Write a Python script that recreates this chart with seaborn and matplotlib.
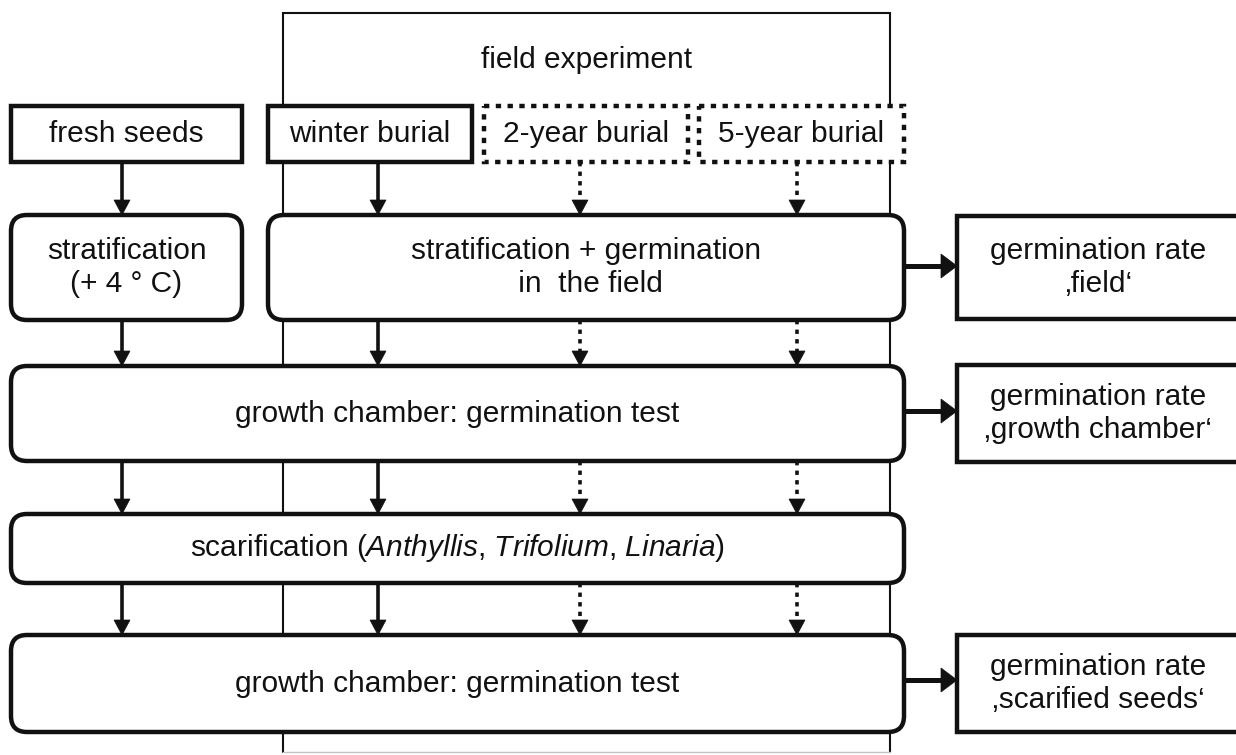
import matplotlib
matplotlib.use("Agg")
import matplotlib.pyplot as plt
import seaborn as sns
from matplotlib.patches import FancyBboxPatch, Polygon

# ---------------- content ----------------
frame_title = "field experiment"
top_labels = ["fresh seeds", "winter burial", "2-year burial", "5-year burial"]
top_dotted = [False, False, True, True]
row2_labels = ["stratification\n(+ 4 \u00b0 C)", "stratification + germination\n in  the field"]
chamber_label = "growth chamber: germination test"
scar_label = r"scarification ($\mathit{Anthyllis}$, $\mathit{Trifolium}$, $\mathit{Linaria}$)"
rate_labels = ["germination rate\n\u201afield\u2018",
               "germination rate\n\u201agrowth chamber\u2018",
               "germination rate\n\u201ascarified seeds\u2018"]

# ---------------- layout (pixels) ----------------
W, H = 1236, 755
frame_x = (283, 890)
frame_y = (13, 752)
top_x = [(11, 242), (268, 472), (484, 688), (699, 904)]
top_y = (106, 162)
row2_x = [(11, 242), (268, 904)]
row2_y = (215, 320)
wide_x = (11, 904)
chamber1_y = (366, 461)
scar_y = (514, 583)
chamber2_y = (635, 732)
rate_x = (957, 1242)
rate_y = [(216, 319), (365, 462), (635, 732)]
col_x = [122, 378, 580, 797]
col_dotted = [False, False, True, True]
vert_levels = [(162, 215), (320, 366), (461, 514), (583, 635)]
horiz_y = [266, 411, 680]

INK = "#111111"
BOX_LW = 3.2
ARR_LW = 2.6
DOTS = (0, (1.2, 1.45))
FS = 21.5

sns.set_theme(style="white")
plt.rcParams["font.family"] = ["Liberation Sans", "DejaVu Sans"]
plt.rcParams["mathtext.fontset"] = "custom"
plt.rcParams["mathtext.rm"] = "Liberation Sans"
plt.rcParams["mathtext.it"] = "Liberation Sans:italic"

fig = plt.figure(figsize=(W / 100, H / 100), dpi=100)
ax = fig.add_axes([0, 0, 1, 1])
ax.set_xlim(0, W)
ax.set_ylim(H, 0)
ax.axis("off")


def box(xr, yr, rounded=False, dotted=False, lw=BOX_LW):
    style = "round,pad=0,rounding_size=16" if rounded else "square,pad=0"
    p = FancyBboxPatch((xr[0], yr[0]), xr[1] - xr[0], yr[1] - yr[0],
                       boxstyle=style, fc="white", ec=INK, lw=lw,
                       ls=DOTS if dotted else "-", zorder=3,
                       joinstyle="miter", capstyle="butt")
    ax.add_patch(p)


def label(xr, yr, s, **kw):
    ax.text((xr[0] + xr[1]) / 2, (yr[0] + yr[1]) / 2, s, ha="center",
            va="center", fontsize=FS, color=INK, linespacing=1.27,
            zorder=5, **kw)


def varrow(x, y0, y1, dotted):
    hl, hw = 15, 16
    ax.plot([x, x], [y0, y1 - hl + 1], color=INK, lw=ARR_LW,
            ls=DOTS if dotted else "-", solid_capstyle="butt",
            dash_capstyle="butt", zorder=4)
    ax.add_patch(Polygon([(x - hw / 2, y1 - hl), (x + hw / 2, y1 - hl), (x, y1)],
                         closed=True, fc=INK, ec=INK, lw=0.5, zorder=4))


def harrow(x0, x1, y):
    hl, hw = 16, 24
    ax.plot([x0, x1 - hl + 1], [y, y], color=INK, lw=3.6,
            solid_capstyle="butt", zorder=4)
    ax.add_patch(Polygon([(x1 - hl, y - hw / 2), (x1 - hl, y + hw / 2), (x1, y)],
                         closed=True, fc=INK, ec=INK, lw=0.5, zorder=4))


# field experiment frame
ax.plot([frame_x[0], frame_x[0], frame_x[1], frame_x[1]],
        [frame_y[1], frame_y[0], frame_y[0], frame_y[1]],
        color=INK, lw=1.5, zorder=1, solid_joinstyle="miter")
ax.plot([frame_x[0], frame_x[1]], [frame_y[1], frame_y[1]],
        color="#c4c4c4", lw=1.0, zorder=1)
ax.text((frame_x[0] + frame_x[1]) / 2, 60, frame_title, ha="center",
        va="center", fontsize=FS, color=INK, zorder=5)

# top row
for xr, s, d in zip(top_x, top_labels, top_dotted):
    box(xr, top_y, dotted=d)
    label(xr, top_y, s)

# second row
for xr, s in zip(row2_x, row2_labels):
    box(xr, row2_y, rounded=True)
    label(xr, row2_y, s)

# wide boxes
box(wide_x, chamber1_y, rounded=True)
label(wide_x, chamber1_y, chamber_label)
box(wide_x, scar_y, rounded=True)
label(wide_x, scar_y, scar_label)
box(wide_x, chamber2_y, rounded=True)
label(wide_x, chamber2_y, chamber_label)

# result boxes
for yr, s in zip(rate_y, rate_labels):
    box(rate_x, yr)
    label((rate_x[0], 1240), yr, s)

# vertical arrows
for x, d in zip(col_x, col_dotted):
    for y0, y1 in vert_levels:
        varrow(x, y0, y1, d)

# horizontal arrows
for y in horiz_y:
    harrow(wide_x[1], rate_x[0], y)

fig.savefig("out.png", dpi=100)
